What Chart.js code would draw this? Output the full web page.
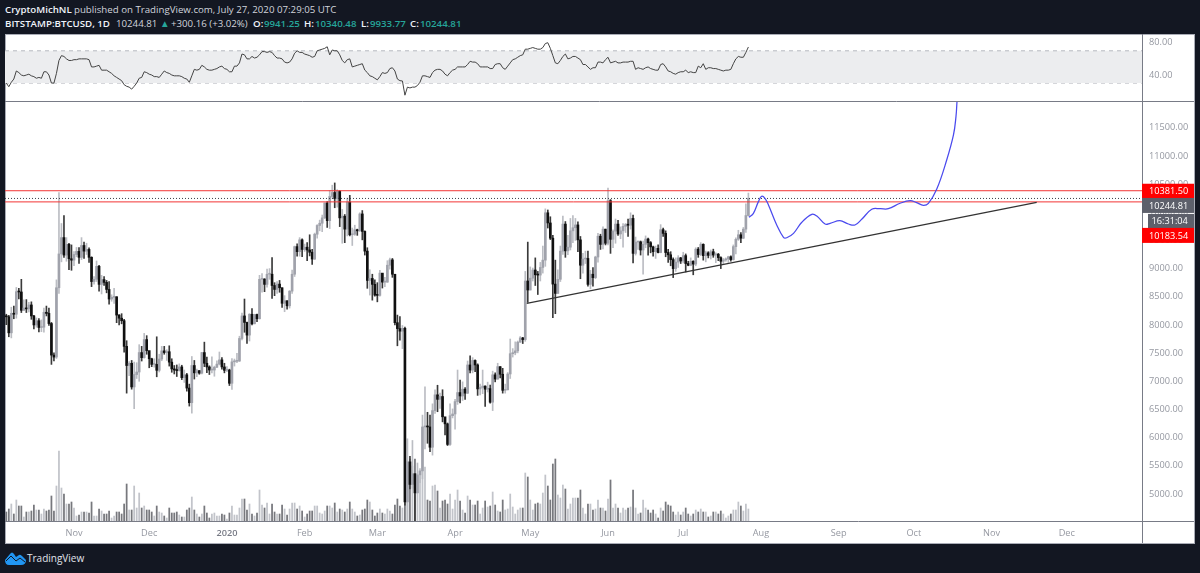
<!DOCTYPE html>
<html>
<head>
<meta charset="utf-8">
<script src="https://cdn.jsdelivr.net/npm/chart.js@4"></script>
<style>
html,body{margin:0;padding:0;background:#131722;width:1200px;height:573px;overflow:hidden;font-family:"Open Sans","Noto Sans",sans-serif}
#panel{position:absolute;left:5px;top:34px;width:1188px;height:508px;background:#fff;border:1px solid #a9acb6}
canvas{position:absolute;left:0;top:0}
.h{position:absolute;white-space:pre;font-size:9.7px;line-height:14px;color:#d1d4dc}
.b{color:#f0f3fa;font-weight:600}
.g{color:#26a69a;font-weight:600}
#brand{position:absolute;left:27px;top:551px;font-size:10px;line-height:15px;color:#e0e3eb}
#logo{position:absolute;left:5px;top:551px}
</style>
</head>
<body>
<div id="panel"></div>
<div class="h b" style="left:5px;top:3px">CryptoMichNL</div>
<div class="h" style="left:74px;top:3px">published on TradingView.com, July 27, 2020 07:29:05 UTC</div>
<div class="h b" style="left:5px;top:17px">BITSTAMP:BTCUSD, 1D</div>
<div class="h" style="left:116px;top:17px">10244.81</div>
<div class="h g" style="left:160px;top:17px">▲</div>
<div class="h" style="left:171px;top:17px">+300.16 (+3.02%)</div>
<div class="h b" style="left:253px;top:17px">O:</div><div class="h g" style="left:264px;top:17px">9941.25</div>
<div class="h b" style="left:304px;top:17px">H:</div><div class="h g" style="left:315px;top:17px">10340.48</div>
<div class="h b" style="left:361px;top:17px">L:</div><div class="h g" style="left:370px;top:17px">9933.77</div>
<div class="h b" style="left:410px;top:17px">C:</div><div class="h g" style="left:420px;top:17px">10244.81</div>
<svg id="logo" width="21" height="14" viewBox="0 0 21 14"><path d="M0 9 L5 3 Q7 0 9 3 L11 6 L14 4 Q15 3 17 5 L21 9 Q21 14 16 14 L4 14 Q0 14 0 9Z" fill="#2196f3"/><path d="M1 10 L6 5 L11 10 L15 7 L20 11" fill="none" stroke="#131722" stroke-width="1"/></svg>
<div id="brand">TradingView</div>
<canvas id="c" width="1200" height="573"></canvas>
<script>
// First candle is 5 Oct 2019, last is 27 Jul 2020 (one value per day)
const firstOpen = 8150;
const closes = [
8145,7860,8205,8190,8590,8585,8260,8300,8285,8355,8160,8000,8075,7955,7960,8225,8205,8025,7465,7430,8660,9260,9550,9240,9430,9175,9150,
9250,9305,9200,9410,9310,9340,9200,8770,8810,9040,8720,8805,8755,8630,8460,8490,8500,8175,8120,8075,7620,7280,7320,6900,7120,7165,7510,7420,7740,7545,
7400,7300,7300,7195,7395,7540,7510,7525,7340,7220,7200,7190,7255,7065,7115,6880,6620,7280,7150,7190,7145,7510,7320,7255,7200,7200,7250,7305,7380,7255,7195,
7200,6965,7345,7355,7360,7760,8160,8045,7820,8190,8020,8185,8110,8810,8815,8720,8900,8900,8700,8630,8725,8660,8385,8430,8340,8600,8900,9390,9300,9510,9340,
9380,9330,9290,9170,9610,9765,9805,9900,10165,9850,10280,10350,10240,10370,9900,9930,9700,10180,9600,9610,9690,9670,9970,9660,9310,8790,8825,8720,8530,
8525,8920,8760,8760,9060,9155,8900,8040,7935,7890,7940,4860,5570,5170,5360,5020,5340,5410,6190,6200,6190,5830,6480,6760,6680,6730,6370,6245,5880,6390,6420,
6640,6800,6740,6860,6790,7290,7200,7370,7290,6865,6890,6915,6860,6870,6630,7115,7040,7260,7125,6840,6850,7130,7490,7505,7540,7695,7770,7740,8780,8620,
8830,8975,8890,8885,9020,9150,9990,9810,9540,8725,8560,8810,9310,9790,9315,9380,9670,9725,9775,9510,9060,9170,9180,8720,8900,8840,9205,9575,9430,9700,9450,
10205,9520,9665,9790,9615,9670,9750,9780,9770,9890,9270,9470,9475,9330,9430,9525,9460,9385,9300,9360,9285,9690,9625,9285,9245,9160,9000,9115,9190,9135,
9230,9090,9060,9130,9080,9345,9250,9430,9230,9280,9235,9300,9240,9255,9195,9130,9155,9170,9210,9160,9390,9520,9600,9540,9700,9941.25,10244.81];
const highs = [
8190,8170,8315,8335,8665,8650,8810,8445,8450,8400,8410,8170,8125,8115,8090,8300,8335,8300,8045,7505,8800,10350,9800,9940,9550,9450,9420,
9300,9375,9375,9550,9470,9450,9370,9210,8860,9135,9060,8880,8860,8790,8770,8535,8650,8500,8185,8200,8100,7720,7350,7370,7340,7330,7650,7620,7850,7810,
7530,7410,7400,7790,7480,7620,7620,7560,7630,7400,7280,7290,7310,7285,7200,7140,6950,7440,7370,7215,7190,7515,7695,7430,7275,7435,7270,7365,7520,7420,7320,
7260,7215,7405,7395,7495,7800,8210,8460,8050,8200,8290,8190,8195,8880,8910,8820,8990,9000,9195,8750,8770,8790,8660,8520,8430,8610,8975,9400,9440,9550,9530,
9435,9460,9600,9340,9630,9780,9860,9950,10165,10190,10385,10480,10520,10400,10385,10050,9960,10250,10300,9720,9770,9700,9990,10030,9670,9370,8980,8900,8800,
8750,8970,8910,8845,9140,9185,9180,8900,8175,8150,7990,7960,5980,5670,5950,5360,5550,5450,6400,6900,6450,6400,6600,6850,6930,6790,6850,6300,6260,6600,6510,
6680,7200,7020,6990,6890,7360,7450,7420,7380,7310,6950,7200,6920,6985,6935,7180,7150,7320,7260,7230,6950,7155,7750,7580,7700,7715,7795,7780,8950,9470,
9030,9010,9190,8950,9110,9400,10060,10040,9920,9590,9150,8980,9400,9930,9835,9590,9890,9940,9890,9830,9570,9270,9310,9310,8970,9020,9220,9625,9610,9740,9700,
10430,10225,9690,9880,9855,9740,9800,9800,9880,9990,9950,9560,9490,9490,9490,9580,9540,9480,9400,9400,9420,9780,9720,9670,9340,9300,9190,9190,9230,9200,
9290,9260,9130,9190,9140,9370,9375,9460,9440,9310,9300,9330,9345,9280,9270,9210,9180,9190,9220,9225,9420,9545,9680,9640,9730,10150,10340.48];
const lows = [
8005,7790,7770,8110,8120,8460,8220,8260,8220,8230,8100,7930,7960,7875,7880,7870,8160,7990,7300,7360,7405,8560,9120,9200,9130,8980,8970,
9050,9210,9090,9160,9180,9250,9110,8680,8725,8770,8600,8550,8700,8570,8370,8420,8380,8040,8000,8020,7515,6790,7100,6860,6515,7050,7000,7360,7410,7480,
7240,7260,7250,7080,7165,7365,7480,7370,7270,7160,7130,7085,7180,7030,6980,6825,6560,6435,7040,7080,7125,7130,7260,7155,7120,7150,7090,7240,7290,7215,7150,
7170,6925,6855,7270,7330,7350,7735,7870,7670,7715,8000,8020,8060,8105,8580,8590,8670,8810,8470,8520,8560,8580,8310,8235,8280,8300,8560,8860,9220,9220,9210,
9305,9140,9225,9075,9160,9540,9670,9655,9885,9730,9710,10250,10080,10090,9745,9450,9460,9580,9580,9410,9590,9590,9660,9510,9240,8650,8530,8440,8510,
8410,8510,8655,8680,8755,8990,8845,8000,7630,7730,7580,4800,3850,5090,5100,4450,5020,5200,5270,5800,5900,5750,5690,6430,6460,6520,6280,6050,5860,5860,6350,
6150,6590,6615,6660,6680,6780,7150,7150,7170,6750,6760,6780,6555,6810,6610,6480,6990,7035,7060,6790,6790,6845,7050,7430,7470,7505,7690,7670,7710,8400,
8620,8780,8700,8540,8780,8920,9040,9720,9515,8130,8200,8560,8770,9250,9200,9245,9330,9460,9500,9300,8820,8920,9090,8690,8640,8690,8820,9115,9340,9350,9420,
9420,9270,9370,9450,9590,9530,9380,9640,9570,9700,9100,9240,9340,9240,8900,9370,9240,9280,9220,9180,9280,9280,9570,9210,9110,9050,8840,8950,9020,9090,
9100,8940,9050,9050,8890,9050,9200,9230,9150,9120,9190,9170,9200,9105,9140,9000,9090,9130,9110,9130,9150,9260,9500,9460,9530,9640,9933.77];
// Volume in relative units
const volumes = [
9,12,17,7,21,15,15,4,9,9,10,16,11,11,7,12,10,11,25,10,35,70,33,27,17,17,19,
13,5,6,9,9,9,8,19,5,5,12,10,7,7,10,3,5,9,9,7,17,37,11,11,35,13,28,13,15,11,
11,9,5,15,9,8,5,3,13,8,8,9,6,4,4,11,13,24,11,7,4,7,15,8,3,7,8,5,5,7,6,
2,8,15,6,6,13,22,22,11,17,7,5,8,31,16,13,18,7,17,9,7,7,16,12,6,12,18,18,12,15,10,
4,7,10,10,15,15,8,7,10,15,15,13,18,9,12,11,9,12,19,12,9,5,6,11,12,21,19,11,5,
8,12,8,7,12,10,7,16,22,15,13,30,60,62,55,62,45,50,50,54,21,20,35,36,30,13,20,21,17,27,12,
21,31,20,11,8,25,21,16,16,20,7,13,20,14,15,29,16,10,9,21,11,12,27,14,7,11,13,13,48,44,
21,11,17,18,17,28,46,35,21,57,62,26,23,36,32,12,17,23,23,23,31,13,7,17,17,11,12,21,13,13,10,
22,41,13,17,13,8,13,11,13,14,31,13,7,8,21,13,11,8,11,7,3,13,10,19,16,15,9,6,9,6,
9,13,7,5,7,11,9,12,9,9,4,5,9,9,7,10,7,3,5,7,11,11,19,15,10,17,12];
const rsiValues = [
30,25.5,31,35,45,43,40,39,40,41,39,38,36,37,36,44,44,40,30,30,42,58,64,63,60,58,58,
59,59,60,60,60,60,59,50,50,51,52,46,46,46,44,42,39,37,35,33,28,26,25,22.5,26,30,36,37,44,43,
41,40,38,38,37,41,45,43,42,40,39,39,39,38,36,35,31,39,47,46,47,52,50,47,46,46,47,48,50,51,48,
47,44,44,51,51,55,66,65,60,60,63,61,62,65,69,69,68,69,68,64,61,61,60,56,55,56,60,67,70,
68,68,66,65,64,62,63,70,71,72,73,75,65,71,70,70,65,58,55,59,60,50,51,52,53,54,46,43,39,38,36,
34,38,43,42,43,48,49,45,35,33,32.6,15,25,24,25,25,27,31,39,39,38,37,43,46,47,47,45,41,39,43,46,
47,50,50,50,50,53,57,56,56,54,50,50,50,50,48,48,53,54,54,49,47,51,55,59,60,62,64,65,72,72,
73,74,73,72,72,74,79,80,73,64,55,54,58,63,66,60,61,63,63,61,59,53,53,50,47,49,49,56,56,55,59,
62,55,56,57,55,55,56,56,56,57,57,47,49,48,47,49,50,48,47,46,46,53,54,50,45,44,42,41,43,44,
44,46,43,44,43,43,51,49,54,47,49,49,48,48,47,46,45,46,46,47,54,60,63,62,62,68,74.7];
const opens = [firstOpen, ...closes.slice(0, -1)];
const days = closes.map((_, i) => i);

const priceTicks = [5000,5500,6000,6500,7000,7500,8000,8500,9000,9500,10000,10500,11000,11500];
const rsiTicks = [40,80];
const monthTickDays = [27,57,88,119,148,179,209,240,270,301,332,362,393,423];
const monthTickLabels = ['Nov','Dec','2020','Feb','Mar','Apr','May','Jun','Jul','Aug','Sep','Oct','Nov','Dec'];

const resistanceHigh = 10381.50, resistanceLow = 10183.54, lastPrice = 10244.81, countdown = '16:31:04';
const trendDays = [207.6, 411], trendPrices = [8384, 10177];
// Hand-drawn forecast path: day index and price
const pathDays = [296.2,298,300,301.3,302.6,304,307.3,310,311.3,314,317.3,321.3,323.3,326.6,328.6,332.5,335.9,338.5,341.2,345.2,348.5,351.8,356.5,360.5,363.1,365.8,367.8,371.1,375.1,377.8,378.8,379.2];
const pathPrices = [9910,9981,10188,10283,10247,10129,9774,9555,9548,9626,9822,9963,9933,9791,9804,9850,9791,9774,9875,10052,10063,10063,10159,10205,10170,10123,10159,10407,10927,11371,11696,11962];

const xMin = -0.52, xMax = 453;
const hline = v => [{x:xMin,y:v},{x:xMax,y:v}];
const isUp = i => closes[i] >= opens[i];
const COL = {up:'#a0a2ab', upWick:'#bbbdc3', down:'#101010', volUp:'#c2c4ca', volDown:'#77787d', axis:'#787b86', text:'#9598a1', red:'#f23535', tag:'#ff0000', grey:'#5d606b'};
const FONT = '"Open Sans","Noto Sans",sans-serif';

const tags = {
  id:'tags',
  afterDraw(chart){
    const {ctx, scales:{y, yRsi, x}} = chart;
    const L = y.left, R = 1194, PB = 543;
    ctx.save();
    ctx.strokeStyle = COL.axis; ctx.lineWidth = 1;
    ctx.beginPath();
    ctx.moveTo(5, Math.round(yRsi.bottom)+.5); ctx.lineTo(R, Math.round(yRsi.bottom)+.5);
    ctx.moveTo(L, Math.round(x.top)+.5); ctx.lineTo(R, Math.round(x.top)+.5);
    ctx.moveTo(L+.5, x.top); ctx.lineTo(L+.5, PB);
    ctx.stroke();
    ctx.font = '9.2px ' + FONT;
    ctx.textBaseline = 'middle';
    const tag = (x0, top, h, fill, text) => {
      ctx.fillStyle = fill; ctx.fillRect(x0, top, R-x0, h);
      ctx.fillStyle = '#fff'; ctx.fillText(text, x0 === L ? L+7 : x0+3.5, top + h/2 + .5);
    };
    tag(L, y.getPixelForValue(resistanceHigh)-7, 14.5, COL.tag, resistanceHigh.toFixed(2));
    tag(L, y.getPixelForValue(lastPrice)-.5, 15, COL.grey, lastPrice.toFixed(2));
    tag(L+6, y.getPixelForValue(lastPrice)+15.5, 14.5, COL.grey, countdown);
    tag(L, y.getPixelForValue(resistanceLow)+26, 15, COL.tag, resistanceLow.toFixed(2));
    ctx.restore();
  }
};

new Chart(document.getElementById('c'), {
  type:'line',
  plugins:[tags],
  data:{datasets:[
    {type:'line', order:1, xAxisID:'x', yAxisID:'y', label:'path', data:pathDays.map((d,i)=>({x:d,y:pathPrices[i]})), borderColor:'#4a4aee', borderWidth:1.25, pointRadius:0, tension:.4},
    {type:'line', order:2, xAxisID:'x', yAxisID:'y', label:'trend', data:trendDays.map((d,i)=>({x:d,y:trendPrices[i]})), borderColor:'#333333', borderWidth:1.25, pointRadius:0},
    {type:'line', order:3, xAxisID:'x', yAxisID:'y', label:'r1', data:hline(resistanceHigh), borderColor:COL.red, borderWidth:1, pointRadius:0},
    {type:'line', order:3, xAxisID:'x', yAxisID:'y', label:'r2', data:hline(resistanceLow), borderColor:COL.red, borderWidth:1, pointRadius:0},
    {type:'line', order:3, xAxisID:'x', yAxisID:'y', label:'last', data:hline(lastPrice), borderColor:'#3b3e48', borderWidth:1, borderDash:[1,2], pointRadius:0},
    {type:'bar', order:4, grouped:false, xAxisID:'x', yAxisID:'y', label:'body', data:days.map(i=>({x:i,y:[opens[i],closes[i]]})), barThickness:2, minBarLength:1, backgroundColor:c=>isUp(c.dataIndex)?COL.up:COL.down},
    {type:'bar', order:5, grouped:false, xAxisID:'x', yAxisID:'y', label:'wick', data:days.map(i=>({x:i,y:[lows[i],highs[i]]})), barThickness:1, backgroundColor:c=>isUp(c.dataIndex)?COL.upWick:'#3a3a3a'},
    {type:'bar', order:6, grouped:false, xAxisID:'x', yAxisID:'yVol', label:'volume', data:days.map(i=>({x:i,y:volumes[i]})), barThickness:1.1, backgroundColor:c=>isUp(c.dataIndex)?COL.volUp:COL.volDown},
    {type:'line', order:1, xAxisID:'x', yAxisID:'yRsi', label:'RSI', data:days.map(i=>({x:i,y:rsiValues[i]})), borderColor:'#444444', borderWidth:1, pointRadius:0, tension:0},
    {type:'line', order:7, xAxisID:'x', yAxisID:'yRsi', label:'70', data:hline(70), borderColor:'#b7b9c0', borderWidth:1, borderDash:[4,4], pointRadius:0, fill:'+1', backgroundColor:'#ecedef'},
    {type:'line', order:7, xAxisID:'x', yAxisID:'yRsi', label:'30', data:hline(30), borderColor:'#b7b9c0', borderWidth:1, borderDash:[4,4], pointRadius:0}
  ]},
  options:{
    responsive:false, animation:false, devicePixelRatio:1,
    layout:{padding:{left:5,top:34,right:6,bottom:30}},
    plugins:{legend:{display:false},tooltip:{enabled:false}},
    scales:{
      x:{type:'linear',min:xMin,max:xMax,offset:false,
        grid:{display:false,drawOnChartArea:false,drawTicks:true,tickLength:4,tickColor:COL.axis,offset:false},
        border:{display:true,color:COL.axis},
        afterBuildTicks:s=>{s.ticks=monthTickDays.map(v=>({value:v}));},
        afterFit:s=>{s.height=22;},
        ticks:{autoSkip:false,maxRotation:0,padding:3,color:c=>monthTickLabels[c.index]==='2020'?'#787b86':COL.text,
          font:c=>({family:FONT,size:9.2,weight:monthTickLabels[c.index]==='2020'?'600':'400'}),
          callback:(v,i)=>monthTickLabels[i]}
      },
      y:{type:'linear',position:'right',stack:'panes',stackWeight:420,weight:1,min:4521,max:11974,
        grid:{display:false,drawOnChartArea:false,drawTicks:true,tickLength:4,tickColor:COL.axis},
        border:{display:true,color:COL.axis},
        afterBuildTicks:s=>{s.ticks=priceTicks.map(v=>({value:v}));},
        afterFit:s=>{s.width=52;},
        ticks:{autoSkip:false,padding:3,color:COL.text,font:{family:FONT,size:9.2},callback:v=>v.toFixed(2)}
      },
      yRsi:{type:'linear',position:'right',stack:'panes',stackWeight:67,weight:0,min:7.8,max:90.8,
        grid:{display:false,drawOnChartArea:false,drawTicks:true,tickLength:4,tickColor:COL.axis},
        border:{display:true,color:COL.axis},
        afterBuildTicks:s=>{s.ticks=rsiTicks.map(v=>({value:v}));},
        afterFit:s=>{s.width=52;},
        ticks:{autoSkip:false,padding:3,color:COL.text,font:{family:FONT,size:9.2},callback:v=>v.toFixed(2)}
      },
      yVol:{type:'linear',display:false,min:0,max:487,offset:false}
    }
  }
});
</script>
</body>
</html>
